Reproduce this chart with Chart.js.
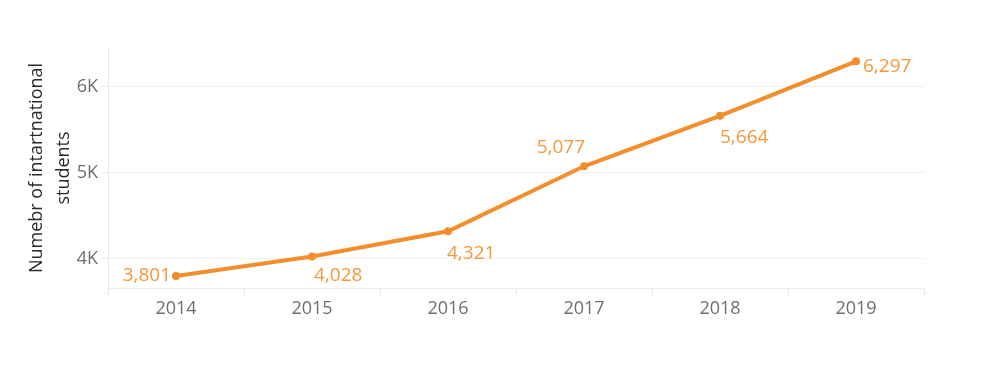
<!DOCTYPE html>
<html><head><meta charset="utf-8">
<script src="https://cdn.jsdelivr.net/npm/chart.js@4"></script>
<style>html,body{margin:0;padding:0;background:#fff}#wrap{width:987px;height:377px}</style>
</head><body><div id="wrap"><canvas id="c"></canvas></div>
<script>
const years = ['2014','2015','2016','2017','2018','2019'];
const students = [3801, 4028, 4321, 5077, 5664, 6297];
const yTicks = [4000, 5000, 6000];
const yTickLabels = ['4K', '5K', '6K'];
const yTitle = ['Numebr of intartnational', 'students'];

// label placement: [dx, dy, align]
const labelPlace = [[-5,0,'right'],[2,19,'left'],[-1,22,'left'],[1,-19,'right'],[0,22,'left'],[7,5,'left']];
const orange = '#f28e2b';
const labelColor = '#f5983a';

const labelPlugin = {
  id: 'pointLabels',
  afterDatasetsDraw(chart) {
    const ctx = chart.ctx;
    const meta = chart.getDatasetMeta(0);
    ctx.save();
    ctx.font = '19px "Open Sans"';
    ctx.fillStyle = labelColor;
    ctx.textBaseline = 'middle';
    meta.data.forEach((pt, i) => {
      const p = labelPlace[i];
      ctx.textAlign = p[2];
      ctx.fillText(students[i].toLocaleString('en-US'), pt.x + p[0], pt.y + p[1]);
    });
    ctx.restore();
  }
};

new Chart(document.getElementById('c'), {
  type: 'line',
  data: {
    labels: years,
    datasets: [{
      data: students,
      borderColor: orange,
      backgroundColor: orange,
      borderWidth: 4,
      pointRadius: 4,
      pointHoverRadius: 4,
      pointBorderWidth: 0,
      tension: 0
    }]
  },
  options: {
    responsive: true,
    maintainAspectRatio: false,
    animation: false,
    plugins: { legend: { display: false }, tooltip: { enabled: false } },
    layout: { padding: { top: 48, right: 63, left: 20, bottom: 0 } },
    scales: {
      x: {
        offset: true,
        grid: { offset: true, drawOnChartArea: false, color: '#e8e8e8', tickLength: 7, lineWidth: 1 },
        border: { color: '#ececec' },
        ticks: { color: '#6e6e6e', font: { family: 'Open Sans', size: 18 }, padding: 3, maxRotation: 0 },
        afterFit(s) { s.height = 89; }
      },
      y: {
        min: 3662, max: 6452,
        afterBuildTicks(s) { s.ticks = yTicks.map(v => ({ value: v })); },
        grid: { color: '#f0f0f0', tickLength: 8 },
        border: { color: '#e8e8e8' },
        ticks: {
          color: '#6e6e6e', font: { family: 'Open Sans', size: 18 }, padding: 2,
          callback(v) { const i = yTicks.indexOf(v); return i >= 0 ? yTickLabels[i] : ''; }
        },
        title: { display: true, text: yTitle, color: '#2a2a2a', font: { family: 'Open Sans', size: 18, lineHeight: 1.5 }, padding: { top: 3, bottom: 0 } },
        afterFit(s) { s.width = 88; }
      }
    }
  },
  plugins: [labelPlugin]
});
</script></body></html>
